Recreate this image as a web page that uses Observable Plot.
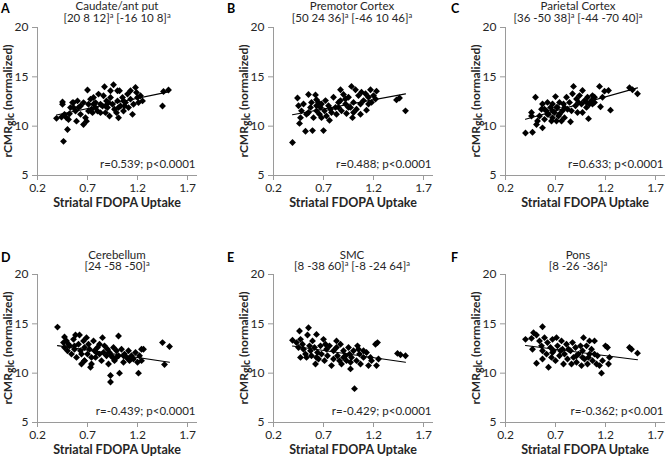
<!DOCTYPE html>
<html><head><meta charset="utf-8">
<script src="https://cdn.jsdelivr.net/npm/d3@7"></script>
<script src="https://cdn.jsdelivr.net/npm/@observablehq/plot@0.6"></script>
<style>
body{margin:0;background:#fff;}
#root{position:relative;width:667px;height:458px;overflow:hidden;font-family:Lato,"Open Sans",sans-serif;}
#root svg{position:absolute;}
</style></head><body><div id="root"></div>
<script>
// ---- text ----
const panelLetters = ["A","B","C","D","E","F"];
const panelTitles = ["Caudate/ant put","Premotor Cortex","Parietal Cortex","Cerebellum","SMC","Pons"];
const panelCoords = [["[20 8 12]","[-16 10 8]"],["[50 24 36]","[-46 10 46]"],["[36 -50 38]","[-44 -70 40]"],
                     ["[24 -58 -50]"],["[8 -38 60]","[-8 -24 64]"],["[8 -26 -36]"]];
const panelStats = ["r=0.539; p<0.0001","r=0.488; p<0.0001","r=0.633; p<0.0001",
                    "r=-0.439; p<0.0001","r=-0.429; p<0.0001","r=-0.362; p<0.001"];
const xLabel = "Striatal FDOPA Uptake";
const xTicks = [0.2,0.7,1.2,1.7];
const yTicks = [5,10,15,20];

// ---- data ----
const aX = [0.39,0.45,0.45,0.46,0.50,0.47,0.44,0.49,0.52,0.55,0.56,0.58,0.59,0.61,0.63,0.60,0.66,0.68,0.69,0.70,0.71,0.73,0.74,0.76,0.78,0.78,0.80,0.81,0.83,0.85,0.86,0.87,0.88,0.89,0.90,0.92,0.93,0.95,0.96,0.97,0.99,1.00,1.01,1.02,1.03,1.05,1.06,1.08,1.10,1.11,1.13,1.15,1.16,1.18,1.19,1.20,1.21,1.23,1.25,1.45,1.46,1.51,0.63,0.66,0.75,0.83,0.91,1.00,0.93,0.53,0.56,1.07,1.13,0.71,0.76,0.88,1.01,1.06,0.51];
const aY = [10.79,12.46,12.22,8.46,9.66,11.20,10.92,10.85,11.26,12.39,11.88,11.54,10.51,11.88,12.05,12.56,10.17,10.85,10.51,13.66,12.22,12.74,11.71,12.90,12.39,11.88,11.54,13.25,12.22,12.05,13.08,14.00,11.37,12.56,11.88,11.03,12.90,12.22,14.20,11.71,11.37,12.56,10.85,13.59,12.05,12.90,11.54,12.39,13.25,11.88,12.74,11.20,12.22,13.93,13.42,12.90,12.39,13.08,12.56,12.05,13.52,13.66,11.20,12.39,11.37,11.37,12.39,13.59,13.59,11.88,12.39,12.05,13.59,11.54,12.22,12.05,11.88,12.56,10.68];

const bX = [0.39,0.44,0.45,0.47,0.46,0.48,0.50,0.52,0.53,0.55,0.57,0.58,0.59,0.60,0.62,0.63,0.63,0.65,0.66,0.67,0.68,0.70,0.71,0.72,0.73,0.75,0.76,0.77,0.80,0.82,0.83,0.85,0.87,0.87,0.88,0.90,0.92,0.93,0.95,0.97,0.98,0.99,1.00,1.02,1.03,1.05,1.07,1.08,1.10,1.12,1.13,1.15,1.17,1.18,1.20,1.22,1.23,1.43,1.46,1.52,0.68,0.78,0.85,0.95,1.00,1.07,0.92,0.63,0.55,1.15];
const bY = [8.34,12.86,12.07,10.86,10.28,11.55,12.24,9.48,11.21,13.21,11.90,12.41,9.55,10.86,13.17,12.07,11.55,12.41,11.21,11.90,12.24,9.55,11.55,12.59,11.03,12.07,10.59,11.72,12.93,11.90,11.21,12.41,13.69,12.59,11.55,13.21,12.24,11.28,12.93,11.90,14.03,10.86,12.41,13.69,11.72,13.10,12.24,13.45,12.59,13.28,11.62,12.93,13.69,12.41,13.10,12.76,13.55,12.66,12.86,11.55,10.86,11.38,11.90,11.90,11.38,11.21,12.76,12.69,11.38,12.24];

const cX = [0.40,0.47,0.46,0.46,0.50,0.51,0.52,0.54,0.56,0.57,0.57,0.59,0.61,0.62,0.63,0.65,0.66,0.67,0.67,0.69,0.70,0.71,0.72,0.73,0.74,0.76,0.77,0.78,0.79,0.81,0.82,0.84,0.85,0.87,0.88,0.90,0.91,0.92,0.94,0.96,0.97,0.97,0.99,1.01,1.02,1.03,1.04,1.06,1.07,1.09,1.14,1.15,1.17,1.19,1.23,1.25,1.44,1.47,1.52,0.62,0.71,0.79,0.86,0.93,1.01,1.07,0.59,0.67,0.74,1.09];
const cY = [9.31,9.38,11.38,11.03,12.93,10.17,10.52,11.03,11.72,9.83,12.24,10.69,11.55,12.41,11.21,11.90,10.52,12.24,10.86,11.38,13.00,10.52,11.90,11.03,12.41,10.52,11.55,12.24,10.86,12.93,11.72,12.41,10.45,13.28,14.03,12.07,12.76,11.38,13.10,12.24,11.38,13.62,12.59,11.90,12.93,10.76,12.24,12.59,13.10,12.41,14.03,11.97,12.93,13.55,13.62,11.62,13.90,13.69,13.28,11.21,11.90,11.90,11.55,12.41,12.41,12.24,11.72,11.55,11.21,12.93];

const dX = [0.40,0.47,0.46,0.47,0.49,0.50,0.52,0.54,0.56,0.57,0.58,0.59,0.61,0.62,0.63,0.64,0.66,0.67,0.67,0.69,0.70,0.71,0.73,0.74,0.76,0.77,0.78,0.80,0.82,0.84,0.85,0.87,0.89,0.90,0.91,0.92,0.93,0.93,0.95,0.96,0.97,0.99,1.01,1.01,1.02,1.04,1.06,1.07,1.09,1.11,1.12,1.14,1.16,1.18,1.20,1.21,1.22,1.24,1.26,1.24,1.45,1.47,1.52,0.51,0.57,0.64,0.72,0.79,0.86,0.94,0.99,1.06,1.11,0.82,0.74,0.67];
const dY = [14.67,13.67,13.10,12.60,13.27,12.27,12.77,11.93,13.43,12.43,13.87,11.60,12.93,13.87,12.27,10.93,13.27,11.27,12.60,13.60,11.93,12.93,10.60,10.93,13.27,12.27,11.60,12.60,11.93,11.27,13.60,12.77,11.77,12.43,10.93,12.10,9.77,9.10,11.60,12.60,11.27,12.27,11.77,13.77,10.00,12.43,11.10,11.93,11.60,12.27,11.27,11.77,11.43,12.10,11.10,10.00,11.77,12.43,12.43,11.27,13.10,10.87,12.70,12.93,12.77,11.93,12.43,12.10,12.10,11.77,11.60,11.77,11.43,12.93,11.60,11.27];

const eX = [0.39,0.46,0.45,0.47,0.47,0.49,0.50,0.52,0.54,0.55,0.56,0.57,0.58,0.59,0.61,0.62,0.63,0.64,0.65,0.67,0.68,0.70,0.71,0.73,0.74,0.76,0.78,0.80,0.83,0.84,0.86,0.87,0.88,0.90,0.92,0.93,0.95,0.96,0.97,0.98,1.00,1.01,1.03,1.04,1.06,1.07,1.10,1.13,1.15,1.17,1.22,1.24,1.23,1.25,1.44,1.47,1.52,0.43,0.53,0.63,0.72,0.80,0.90,0.97,1.05,1.10,1.18,0.83];
const eY = [13.33,14.27,12.60,11.60,13.43,12.93,12.43,11.93,13.87,14.60,12.77,12.27,11.77,13.27,12.60,10.93,13.93,12.10,11.43,12.77,11.93,13.43,11.27,12.43,11.77,12.77,10.77,12.27,13.27,11.77,11.27,12.93,10.93,12.27,11.77,11.27,12.60,11.93,10.43,11.60,12.27,8.43,11.27,12.77,11.93,10.93,11.60,12.10,10.77,11.60,12.93,13.10,10.77,11.43,12.00,11.87,11.77,13.10,11.60,11.60,12.93,11.43,11.60,11.10,12.43,12.27,11.27,12.60];

const fX = [0.40,0.46,0.48,0.51,0.51,0.54,0.56,0.57,0.57,0.59,0.61,0.62,0.63,0.65,0.66,0.67,0.68,0.70,0.71,0.72,0.74,0.76,0.77,0.78,0.79,0.81,0.82,0.85,0.87,0.88,0.90,0.91,0.93,0.96,0.97,0.98,0.99,1.01,1.02,1.04,1.06,1.07,1.09,1.11,1.12,1.14,1.16,1.17,1.20,1.22,1.23,1.24,1.44,1.46,1.52,0.47,0.57,0.67,0.75,0.83,0.91,0.97,1.03,1.09,0.95,0.86,1.04];
const fY = [13.43,13.53,14.10,13.87,11.00,13.27,12.77,14.70,12.27,13.60,11.93,13.10,10.60,12.60,11.60,13.43,12.27,11.27,13.60,12.77,11.77,13.27,12.43,10.93,11.93,12.93,11.43,12.27,13.10,11.60,12.60,11.10,11.93,10.77,12.27,13.60,11.43,12.77,10.93,11.93,12.43,11.27,13.27,10.93,11.77,10.77,10.00,11.27,12.77,12.60,10.93,11.60,12.60,12.43,12.03,12.43,11.43,12.10,12.27,12.43,11.77,11.60,11.60,11.93,12.77,10.93,13.27];

const seriesX = [aX,bX,cX,dX,eX,fX];
const seriesY = [aY,bY,cY,dY,eY,fY];

// ---- layout ----
const axisLeft = [37,273,505,37,273,505];
const plotTop  = [27,27,27,274,274,274];
const letterX  = [1,227,451,1,227,451];
const titleCx  = [117,352,578,117,352,578];

const mL=40, mT=4, mR=2, mB=42, pw=160, ph=148;
const root = document.getElementById("root");
const FONT = "Lato, 'Open Sans', sans-serif";

for (let i=0;i<6;i++){
  const data = d3.zip(seriesX[i], seriesY[i]).map(([x,y])=>({x,y}));
  const svg = Plot.plot({
    width: mL+pw+mR, height: mT+ph+mB,
    marginLeft:mL, marginTop:mT, marginRight:mR, marginBottom:mB,
    style:{fontFamily:FONT, fontSize:"11.5px", color:"#262626", background:"transparent", overflow:"visible"},
    x:{domain:[0.2,1.8]},
    y:{domain:[5,20]},
    marks:[
      Plot.axisX({ticks:xTicks, tickFormat:d=>d.toFixed(1), tickSize:5, tickPadding:3, stroke:"#9a9a9a", fill:"#262626", label:null, fontSize:12}),
      Plot.axisY({ticks:yTicks, tickSize:5, tickPadding:4, stroke:"#9a9a9a", fill:"#262626", label:null, fontSize:12}),
      Plot.ruleY([5], {stroke:"#9a9a9a"}),
      Plot.ruleX([0.2], {stroke:"#9a9a9a"}),
      Plot.dot(data, {x:"x", y:"y", symbol:"diamond2", r:3.1, fill:"#000", stroke:"none"}),
      Plot.linearRegressionY(data, {x:"x", y:"y", ci:0, stroke:"#000", strokeWidth:1.1}),
      Plot.text([panelStats[i]], {frameAnchor:"bottom-right", text:d=>d, dx:-2, dy:-11, lineAnchor:"middle", textAnchor:"end", fill:"#262626", fontSize:11.5})
    ]
  });
  svg.style.left = (axisLeft[i]-mL)+"px";
  svg.style.top = (plotTop[i]-mT)+"px";
  const s = d3.select(svg);
  // y label with subscript
  const yl = s.append("text")
    .attr("transform",`translate(${mL-25},${mT+ph/2}) rotate(-90)`)
    .attr("text-anchor","middle").attr("font-weight","bold")
    .attr("font-family",FONT).attr("font-size","12px").attr("fill","#262626");
  yl.append("tspan").text("rCMR");
  yl.append("tspan").attr("dy",2).attr("font-size","10.5px").text("glc");
  yl.append("tspan").attr("dy",-2).text(" (normalized)");
  // x label
  s.append("text").attr("x",mL+pw/2).attr("y",mT+ph+32)
    .attr("text-anchor","middle").attr("font-weight","bold")
    .attr("font-family",FONT).attr("font-size","12.5px").attr("fill","#262626")
    .text(xLabel);
  root.appendChild(svg);
}

// ---- overlay: letters and titles ----
const ov = d3.select(root).append("svg").attr("width",667).attr("height",458)
  .style("left","0px").style("top","0px").style("pointer-events","none");
for (let i=0;i<6;i++){
  const top = i<3 ? 0 : 248.5;
  ov.append("text").attr("x",letterX[i]).attr("y",top+13)
    .attr("font-family",FONT).attr("font-weight","bold").attr("font-size","12.5px").attr("fill","#000")
    .text(panelLetters[i]);
  ov.append("text").attr("x",titleCx[i]).attr("y",top+10)
    .attr("text-anchor","middle").attr("font-family",FONT).attr("font-size","11.5px").attr("fill","#262626")
    .text(panelTitles[i]);
  const sub = ov.append("text").attr("x",titleCx[i]).attr("y",top+21.5)
    .attr("text-anchor","middle").attr("font-family",FONT).attr("font-size","11.5px").attr("fill","#262626");
  panelCoords[i].forEach((c,k)=>{
    sub.append("tspan").attr("dy", k===0?0:4).text((k===0?"":" ")+c);
    sub.append("tspan").attr("dy",-4).attr("font-size","7.5px").text("a");
  });
}
</script></body></html>
